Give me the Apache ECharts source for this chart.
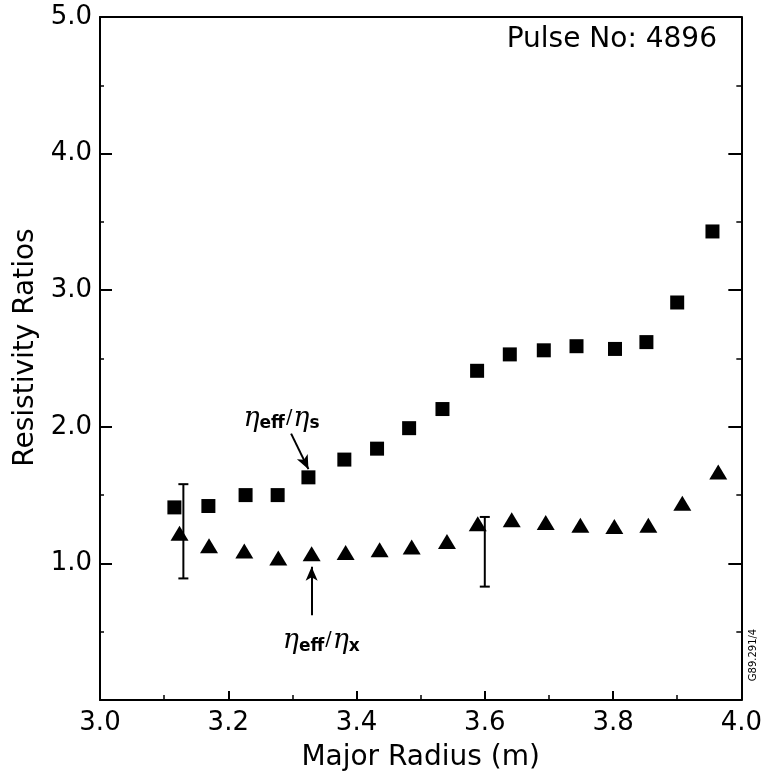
<!DOCTYPE html>
<html>
<head>
<meta charset="utf-8">
<script src="https://cdn.jsdelivr.net/npm/echarts@6/dist/echarts.min.js"></script>
<style>
html,body{margin:0;padding:0;background:#fff;}
#chart{width:765px;height:782px;}
</style>
</head>
<body>
<div id="chart"></div>
<script>
// ---- data ----
const squareX = [3.116,3.169,3.227,3.277,3.325,3.381,3.432,3.482,3.534,3.588,3.639,3.692,3.743,3.803,3.852,3.900,3.955];
const squareY = [1.41,1.42,1.50,1.50,1.63,1.76,1.84,1.99,2.13,2.41,2.53,2.56,2.59,2.57,2.62,2.91,3.43];
const triangleX = [3.124,3.170,3.225,3.278,3.330,3.383,3.436,3.486,3.541,3.589,3.642,3.695,3.749,3.802,3.855,3.908,3.964];
const triangleY = [1.22,1.13,1.09,1.04,1.07,1.08,1.10,1.12,1.16,1.29,1.32,1.30,1.28,1.27,1.28,1.44,1.67];
const errX = [3.13, 3.60];
const errLow = [0.89, 0.83];
const errHigh = [1.58, 1.34];
const xTicks = [3.0,3.2,3.4,3.6,3.8,4.0];
const yTicks = [1.0,2.0,3.0,4.0,5.0];
const titleText = 'Pulse No: 4896';
const xName = 'Major Radius (m)';
const yName = 'Resistivity Ratios';
const figCode = 'G89.291/4';
// annotation anchors (data coordinates)
const arrowS = [[3.298,1.95],[3.325,1.69]];
const arrowX = [[3.33,0.62],[3.33,0.975]];
const labelS = [3.283,2.06];
const labelX = [3.345,0.43];

const FONT = 'DejaVu Sans';
const chart = echarts.init(document.getElementById('chart'), null, {renderer:'canvas'});

const squares = squareX.map((x,i)=>[x,squareY[i]]);
const triangles = triangleX.map((x,i)=>[x,triangleY[i]]);
const errs = errX.map((x,i)=>[x,errLow[i],errHigh[i]]);

const axisLineStyle = {color:'#000', width:2};

const option = {
  backgroundColor:'#fff',
  animation:false,
  title:{
    text:titleText, right:43, top:21,
    textStyle:{fontFamily:FONT, fontSize:28, fontWeight:'normal', color:'#000'}
  },
  grid:{left:100, right:20, top:17, bottom:82},
  xAxis:[{
    type:'value', min:3, max:4, interval:0.2, position:'bottom',
    name:xName, nameLocation:'middle', nameGap:44,
    nameTextStyle:{fontFamily:FONT, fontSize:28, color:'#000'},
    axisLine:{show:true, onZero:false, lineStyle:axisLineStyle},
    axisTick:{show:true, inside:true, length:9, lineStyle:{color:'#000', width:2}},
    minorTick:{show:true, splitNumber:2, length:5, lineStyle:{color:'#000', width:1.5}},
    axisLabel:{fontFamily:FONT, fontSize:26, color:'#000', margin:10,
      formatter:v=>{const t=xTicks.find(k=>Math.abs(k-v)<1e-6);return t===undefined?'':t.toFixed(1);}},
    splitLine:{show:false}, minorSplitLine:{show:false}
  },{
    type:'value', min:3, max:4, interval:0.2, position:'top',
    axisLine:{show:true, onZero:false, lineStyle:axisLineStyle},
    axisTick:{show:false}, axisLabel:{show:false}, splitLine:{show:false}
  }],
  yAxis:[{
    type:'value', min:0, max:5, interval:1, position:'left',
    name:yName, nameLocation:'middle', nameGap:60,
    nameTextStyle:{fontFamily:FONT, fontSize:28, color:'#000', padding:[0,0,0,22]},
    axisLine:{show:true, onZero:false, lineStyle:axisLineStyle},
    axisTick:{show:true, inside:true, length:12, lineStyle:{color:'#000', width:2}},
    minorTick:{show:true, splitNumber:2, length:4, lineStyle:{color:'#000', width:1.5}},
    axisLabel:{fontFamily:FONT, fontSize:26, color:'#000', margin:8,
      formatter:v=>{const t=yTicks.find(k=>Math.abs(k-v)<1e-6);return t===undefined?'':t.toFixed(1);}},
    splitLine:{show:false}, minorSplitLine:{show:false}
  },{
    type:'value', min:0, max:5, interval:1, position:'right',
    axisLine:{show:true, onZero:false, lineStyle:axisLineStyle},
    axisTick:{show:true, inside:true, length:13, lineStyle:{color:'#000', width:2}},
    minorTick:{show:true, splitNumber:2, length:5, lineStyle:{color:'#000', width:1.5}},
    axisLabel:{show:false}, splitLine:{show:false}, minorSplitLine:{show:false}
  }],
  series:[{
    name:'eta_eff/eta_s', type:'scatter', data:squares,
    symbol:'rect', symbolSize:14, itemStyle:{color:'#000', opacity:1}
  },{
    name:'eta_eff/eta_x', type:'scatter', data:triangles,
    symbol:'triangle', symbolSize:[18,15], itemStyle:{color:'#000', opacity:1},
    markLine:{
      silent:true, symbol:['none','arrow'], symbolSize:[9,14],
      label:{show:false},
      lineStyle:{color:'#000', width:2, type:'solid', opacity:1},
      data:[
        [{coord:arrowS[0]},{coord:arrowS[1]}],
        [{coord:arrowX[0]},{coord:arrowX[1]}]
      ]
    }
  },{
    name:'error', type:'custom', data:errs,
    renderItem:(params, api)=>{
      const x=api.value(0), lo=api.value(1), hi=api.value(2);
      const pt=api.coord([x,hi]), pb=api.coord([x,lo]);
      const w=5;
      const st={stroke:'#000', lineWidth:2};
      return {type:'group', children:[
        {type:'line', shape:{x1:pt[0],y1:pt[1],x2:pb[0],y2:pb[1]}, style:st},
        {type:'line', shape:{x1:pt[0]-w,y1:pt[1],x2:pt[0]+w,y2:pt[1]}, style:st},
        {type:'line', shape:{x1:pb[0]-w,y1:pb[1],x2:pb[0]+w,y2:pb[1]}, style:st}
      ]};
    }
  }]
};
chart.setOption(option);

function etaLabel(sub){
  return {
    text:'{e|η}{b|eff}{s|/}{e|η}{b|'+sub+'}',
    rich:{
      e:{fontFamily:'DejaVu Serif', fontStyle:'italic', fontSize:27, color:'#000', verticalAlign:'bottom'},
      b:{fontFamily:FONT, fontWeight:'bold', fontSize:17, color:'#000', verticalAlign:'bottom'},
      s:{fontFamily:FONT, fontSize:19, color:'#000', verticalAlign:'bottom', padding:[0,1,5,1]}
    },
    align:'center', verticalAlign:'middle'
  };
}
const pS = chart.convertToPixel({gridIndex:0}, labelS);
const pX = chart.convertToPixel({gridIndex:0}, labelX);
const grid = chart.getModel().getComponent('grid').coordinateSystem.getRect();
chart.setOption({
  graphic:[
    {type:'text', x:pS[0], y:pS[1], style:etaLabel('s')},
    {type:'text', x:pX[0], y:pX[1], style:etaLabel('x')},
    {type:'text', x:grid.x+grid.width+12, y:grid.y+grid.height-45, rotation:Math.PI/2,
      style:{text:figCode, fontFamily:FONT, fontSize:10, fill:'#000', align:'center', verticalAlign:'middle'}}
  ]
});
</script>
</body>
</html>
